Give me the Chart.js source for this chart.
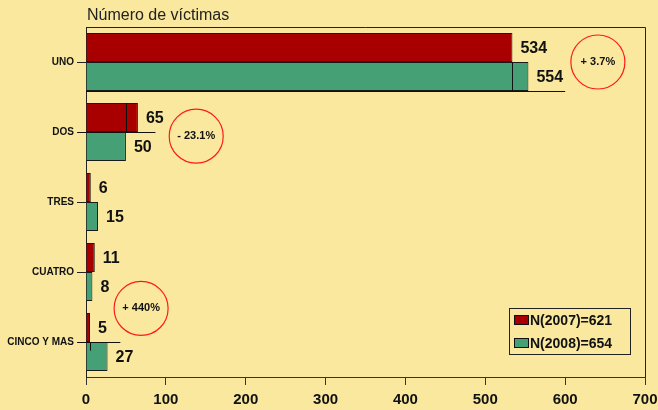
<!DOCTYPE html>
<html>
<head>
<meta charset="utf-8">
<script src="https://cdn.jsdelivr.net/npm/chart.js@4.4.1/dist/chart.umd.min.js"></script>
<style>
  html, body { margin: 0; padding: 0; background: #f9e89e; }
  #wrap { width: 658px; height: 410px; }
</style>
</head>
<body>
<div id="wrap"><canvas id="chart" width="658" height="410"></canvas></div>
<script>
/* ── data ── */
const chartTitle = 'Número de víctimas';
const categories = ['UNO', 'DOS', 'TRES', 'CUATRO', 'CINCO Y MAS'];
const victimas2007 = [534, 65, 6, 11, 5];
const victimas2008 = [554, 50, 15, 8, 27];
const seriesLabels = ['N(2007)=621', 'N(2008)=654'];
const xTicks = [0, 100, 200, 300, 400, 500, 600, 700];

// % change notes (category position, x value)
const noteTexts = ['+ 3.7%', '- 23.1%', '+ 440%'];
const noteCats = [0, 1.06, 3.52];
const noteValues = [641, 138, 69];

// stray strokes left over in the original picture
const stubCats = [0, 1, 4];
const stubEnds = [600, 87, 43];
const splitCats = [0, 1, 4];
const splitSeries = [1, 0, 1];
const splitValues = [534, 50, 5];

const BG = '#f9e89e';
const RED = '#a80000';
const GREEN = '#45a076';
const FONT = "'Liberation Sans', Arial, sans-serif";

const decor = {
  id: 'decor',
  beforeDraw(chart) {
    const { ctx, width, height } = chart;
    ctx.save();
    ctx.fillStyle = BG;
    ctx.fillRect(0, 0, width, height);
    ctx.restore();
  },
  afterDatasetsDraw(chart) {
    const { ctx, chartArea: a, scales: { x, y } } = chart;
    ctx.save();

    // frame (top + right)
    ctx.strokeStyle = '#222';
    ctx.lineWidth = 1;
    ctx.beginPath();
    ctx.moveTo(a.left, Math.round(a.top) + 0.5);
    ctx.lineTo(Math.round(a.right) + 0.5, Math.round(a.top) + 0.5);
    ctx.lineTo(Math.round(a.right) + 0.5, a.bottom);
    ctx.stroke();

    // title
    ctx.fillStyle = '#222';
    ctx.font = '16px ' + FONT;
    ctx.textBaseline = 'alphabetic';
    ctx.textAlign = 'left';
    ctx.fillText(chartTitle, a.left + 1, 20);

    // stray strokes
    ctx.strokeStyle = '#111';
    stubCats.forEach((c, i) => {
      const bar = chart.getDatasetMeta(1).data[c];
      const yy = i === 0 ? bar.y + bar.height / 2 : y.getPixelForValue(c);
      const x0 = i === 0 ? a.left : a.left - 8;
      ctx.beginPath();
      ctx.moveTo(x0, Math.round(yy) + 0.5);
      ctx.lineTo(x.getPixelForValue(stubEnds[i]), Math.round(yy) + 0.5);
      ctx.stroke();
    });
    splitCats.forEach((c, i) => {
      const bar = chart.getDatasetMeta(splitSeries[i]).data[c];
      const xx = Math.round(x.getPixelForValue(splitValues[i])) + 0.5;
      const top = bar.y - bar.height / 2;
      const len = i === 2 ? bar.height * 0.3 : bar.height;
      ctx.beginPath();
      ctx.moveTo(xx, top);
      ctx.lineTo(xx, top + len);
      ctx.stroke();
    });

    // value labels
    ctx.fillStyle = '#111';
    ctx.font = 'bold 16px ' + FONT;
    ctx.textBaseline = 'middle';
    chart.data.datasets.forEach((ds, di) => {
      chart.getDatasetMeta(di).data.forEach((bar, i) => {
        ctx.fillText(String(ds.data[i]), bar.x + 8, bar.y + 1);
      });
    });

    // notes in red circles
    noteTexts.forEach((t, i) => {
      const cx = x.getPixelForValue(noteValues[i]);
      const cy = y.getPixelForValue(noteCats[i]);
      ctx.strokeStyle = '#ff1a1a';
      ctx.lineWidth = 1.2;
      ctx.beginPath();
      ctx.arc(cx, cy, 27, 0, Math.PI * 2);
      ctx.stroke();
      ctx.fillStyle = '#111';
      ctx.font = 'bold 11px ' + FONT;
      ctx.textAlign = 'center';
      ctx.fillText(t, cx, cy);
    });

    // legend box
    const lx = Math.round(a.right) - 136, ly = Math.round(a.bottom) - 69;
    ctx.fillStyle = BG;
    ctx.fillRect(lx, ly, 121, 46);
    ctx.strokeStyle = '#222';
    ctx.lineWidth = 1;
    ctx.strokeRect(lx + 0.5, ly + 0.5, 121, 46);
    ctx.textAlign = 'left';
    ctx.font = 'bold 14px ' + FONT;
    [RED, GREEN].forEach((col, i) => {
      const ry = ly + 12 + i * 23;
      ctx.fillStyle = col;
      ctx.fillRect(lx + 5.5, ry - 4.5, 14, 9);
      ctx.strokeStyle = '#111';
      ctx.strokeRect(lx + 5.5, ry - 4.5, 14, 9);
      ctx.fillStyle = '#111';
      ctx.fillText(seriesLabels[i], lx + 21, ry + 1);
    });
    ctx.restore();
  }
};

new Chart(document.getElementById('chart'), {
  type: 'bar',
  data: {
    labels: categories,
    datasets: [
      { label: seriesLabels[0], data: victimas2007, backgroundColor: RED, borderColor: '#1a1a1a', borderWidth: 1 },
      { label: seriesLabels[1], data: victimas2008, backgroundColor: GREEN, borderColor: '#1a1a1a', borderWidth: 1 }
    ]
  },
  options: {
    indexAxis: 'y',
    responsive: false,
    animation: false,
    layout: { padding: { top: 27, right: 13, left: 0, bottom: 0 } },
    datasets: { bar: { categoryPercentage: 0.83, barPercentage: 1 } },
    plugins: { legend: { display: false }, tooltip: { enabled: false } },
    scales: {
      x: {
        type: 'linear',
        min: 0,
        max: 700,
        afterBuildTicks: s => { s.ticks = xTicks.map(v => ({ value: v })); },
        grid: { drawOnChartArea: false, drawTicks: true, tickLength: 8, color: '#333' },
        border: { color: '#333', width: 1 },
        ticks: { color: '#111', padding: 6, font: { family: FONT, size: 15, weight: 'bold' } },
        afterFit: s => { s.height = 33; s.paddingLeft = 0; s.paddingRight = 0; }
      },
      y: {
        grid: { offset: false, drawOnChartArea: false, drawTicks: true, tickLength: 9, color: '#222' },
        border: { color: '#222', width: 1 },
        ticks: { color: '#111', padding: 3, font: { family: FONT, size: 10, weight: 'bold' } },
        afterFit: s => { s.width = 86; s.paddingTop = 0; s.paddingBottom = 0; }
      }
    }
  },
  plugins: [decor]
});
</script>
</body>
</html>
